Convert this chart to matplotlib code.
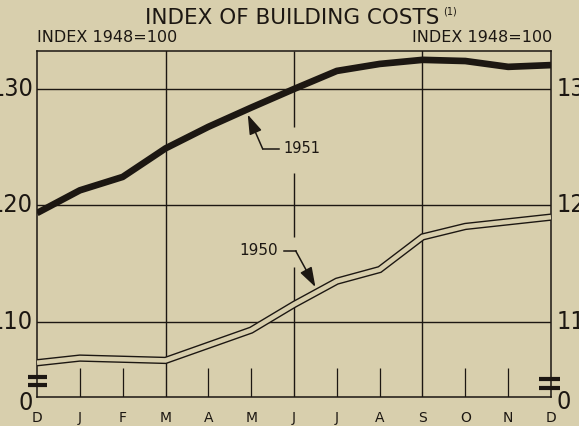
import numpy as np
import matplotlib; matplotlib.use('Agg')
import matplotlib.pyplot as plt
from matplotlib import font_manager as fm
from matplotlib.transforms import blended_transform_factory as blend

# index of building costs, 1948 = 100, Dec 1949 .. Dec 1950 / Dec 1950 .. Dec 1951
months = ['D', 'J', 'F', 'M', 'A', 'M', 'J', 'J', 'A', 'S', 'O', 'N', 'D']
cost_1950 = [106.5, 106.9, 106.8, 106.7, 108.0, 109.3, 111.5, 113.5, 114.5, 117.3, 118.2, 118.6, 119.0]
cost_1951 = [119.35, 121.3, 122.45, 124.9, 126.75, 128.4, 130.0, 131.55, 132.15, 132.5, 132.4, 131.9, 132.05]
grid_vals = [130, 120, 110]
grid_labels = ['130', '120', '110']
grid_months = [3, 6, 9]          # M, J, S get full vertical rules

BG = '#d8cfad'; INK = '#1c1712'
names = {f.name for f in fm.fontManager.ttflist}
if 'Liberation Sans Narrow' in names:
    NUM = dict(family='Liberation Sans Narrow', fontsize=21)
else:
    NUM = dict(family='DejaVu Sans', fontstretch='condensed', fontsize=18)
TXT = dict(family='DejaVu Sans', color=INK)

fig = plt.figure(figsize=(5.79, 4.26), dpi=100, facecolor=BG)
ax = fig.add_axes([37/579, 1-397/426, 514/579, 346/426], facecolor=BG)
x = np.arange(len(months))
ax.set_xlim(0, 12); ax.set_ylim(103.56, 133.26)

# rules
for v in grid_vals: ax.axhline(v, color=INK, lw=1.0, zorder=1)
for m in grid_months:
    if m == 6:  # June rule is broken where the labels sit
        ax.vlines([m]*3, [103.56, 117.3, 126.7], [114.7, 122.8, 133.26], color=INK, lw=1.0, zorder=1)
    else:
        ax.axvline(m, color=INK, lw=1.0, zorder=1)
short = [i for i in range(1, 12) if i not in grid_months]
ax.vlines(short, 103.56, 106.05, color=INK, lw=0.9, zorder=1)
for s in ax.spines.values(): s.set_color(INK); s.set_linewidth(1.1)

# series
ax.plot(x, cost_1951, color=INK, lw=4.8, solid_capstyle='butt', zorder=4)
ax.plot(x, cost_1950, color=INK, lw=5.3, solid_capstyle='butt', solid_joinstyle='miter', zorder=3)
ax.plot(x, cost_1950, color=BG, lw=3.3, solid_capstyle='butt', solid_joinstyle='miter', zorder=3)

# labels with leader arrows
ap = dict(arrowstyle='-|>,head_length=1.0,head_width=0.33', color=INK, lw=1.1,
          mutation_scale=12, shrinkA=0, shrinkB=0)
ax.plot([5.27, 5.64], [124.85, 124.85], color=INK, lw=1.1)
ax.annotate('', xy=(4.92, 127.8), xytext=(5.27, 124.85), arrowprops=ap)
ax.text(5.75, 124.85, '1951', ha='left', va='center', fontsize=10.5, **TXT)
ax.plot([5.76, 6.04], [116.1, 116.1], color=INK, lw=1.1)
ax.annotate('', xy=(6.5, 113.0), xytext=(6.04, 116.1), arrowprops=ap)
ax.text(5.62, 116.1, '1950', ha='right', va='center', fontsize=11, **TXT)

# axis break marks
for xs, ys in [((-0.21, 0.23), (105.28, 104.6)), ((11.72, 12.21), (105.1, 104.33))]:
    for yy in ys:
        ax.plot(xs, [yy, yy], color=INK, lw=3.0, solid_capstyle='butt', clip_on=False, zorder=6)

# tick labels (cut by the page edge as in the print)
tl = blend(ax.transAxes, ax.transData)
for v, lab in zip(grid_vals, grid_labels):
    ax.text(-4/514, v, lab, transform=tl, ha='right', va='center', color=INK, **NUM)
    ax.text(1+6/514, v, lab, transform=tl, ha='left', va='center', color=INK, **NUM)
ax.text(-4/514, 103.05, '0', transform=tl, ha='right', va='center', color=INK, **NUM)
ax.text(1+6/514, 103.1, '0', transform=tl, ha='left', va='center', color=INK, **NUM)
ax.set_yticks([])
ax.set_xticks(x, months)
ax.tick_params(axis='x', length=0, pad=10, labelsize=10, labelcolor=INK)
for t in ax.get_xticklabels(): t.set_family('DejaVu Sans')

# titles
fig.text(292/579, 1-18.5/426, 'INDEX OF BUILDING COSTS', ha='center', va='center', fontsize=15.5, **TXT)
fig.text(443/579, 1-12/426, '(1)', ha='left', va='center', fontsize=7, **TXT)
fig.text(37/579, 1-37.5/426, 'INDEX 1948=100', ha='left', va='center', fontsize=11.5, **TXT)
fig.text(552/579, 1-37.5/426, 'INDEX 1948=100', ha='right', va='center', fontsize=11.5, **TXT)

fig.savefig('out.png', dpi=100, facecolor=BG)
